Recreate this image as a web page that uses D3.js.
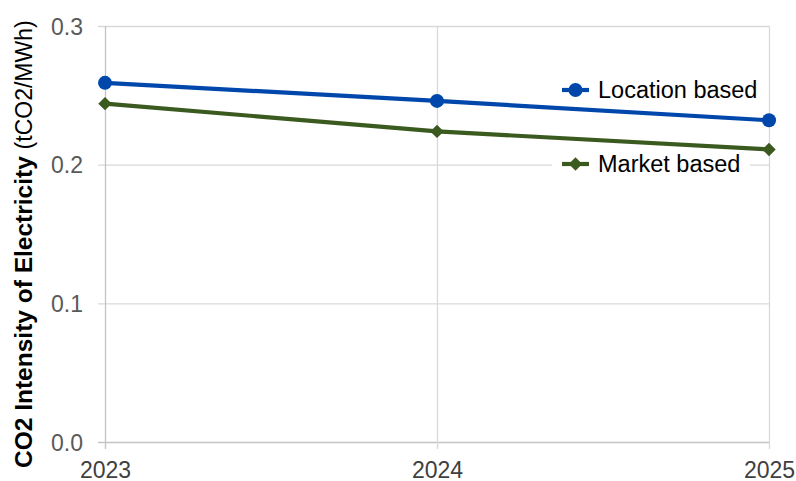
<!DOCTYPE html>
<html>
<head>
<meta charset="utf-8">
<script src="https://cdn.jsdelivr.net/npm/d3@7"></script>
<style>
  html, body { margin: 0; padding: 0; background: #fff; }
  svg { display: block; font-family: "Liberation Sans", Arial, sans-serif; }
</style>
</head>
<body>
<svg id="chart" width="796" height="481"></svg>
<script>
// Chart data
const years = ["2023", "2024", "2025"];
const locationBased = [0.259, 0.246, 0.232];
const marketBased = [0.244, 0.224, 0.211];
const yTicks = [0.0, 0.1, 0.2, 0.3];
const seriesNames = ["Location based", "Market based"];

const svg = d3.select("#chart");
const margin = { left: 105, right: 27, top: 26, bottom: 39 };
const W = 796, H = 481;

const x = d3.scalePoint().domain(years).range([margin.left, W - margin.right]);
const y = d3.scaleLinear().domain([0, 0.3]).range([H - margin.bottom, margin.top]);

const gridColor = "#d9d9d9";
const axisColor = "#c4c4c4";
const font = "Liberation Sans, Arial, sans-serif";

// Horizontal gridlines with left tick stubs
const yAxis = d3.axisLeft(y).tickValues(yTicks).tickFormat(d3.format(".1f"))
  .tickSize(-(W - margin.right - margin.left)).tickPadding(22);
const gy = svg.append("g").attr("transform", `translate(${margin.left},0)`).call(yAxis);
gy.select(".domain").remove();
gy.selectAll(".tick line").attr("stroke", gridColor).attr("stroke-width", 1.3).attr("x1", -7);
gy.selectAll(".tick text").attr("fill", "#595959").attr("font-size", 23)
  .attr("font-family", font).attr("dy", "0.35em");

// Vertical gridlines with bottom tick stubs
const xAxis = d3.axisBottom(x).tickSize(-(H - margin.bottom - margin.top)).tickPadding(20);
const gx = svg.append("g").attr("transform", `translate(0,${H - margin.bottom})`).call(xAxis);
gx.select(".domain").remove();
gx.selectAll(".tick line").attr("stroke", gridColor).attr("stroke-width", 1.3).attr("y1", 7);
gx.selectAll(".tick text").attr("fill", "#404040").attr("font-size", 23)
  .attr("font-family", font).attr("dy", "0.71em");
// left axis line and baseline a touch darker
gx.selectAll(".tick").filter((d, i) => i === 0).select("line").attr("stroke", axisColor);
gy.selectAll(".tick").filter(d => d === 0).select("line").attr("stroke", axisColor);

// Y axis title
const title = svg.append("text")
  .attr("transform", `translate(32,468) rotate(-90)`)
  .attr("text-anchor", "start").attr("fill", "#000");
title.append("tspan").attr("font-weight", "bold").attr("font-size", 24.5).text("CO2 Intensity of Electricity ");
title.append("tspan").attr("font-size", 23).text("(tCO2/MWh)");

// Series
const series = [
  { name: seriesNames[0], values: locationBased, color: "#0047ab", marker: "circle" },
  { name: seriesNames[1], values: marketBased, color: "#3b5a1f", marker: "diamond" }
];

const line = d3.line().x((d, i) => x(years[i])).y(d => y(d));

function drawMarker(g, type, cx, cy, color) {
  if (type === "circle") {
    g.append("circle").attr("cx", cx).attr("cy", cy).attr("r", 7).attr("fill", color);
  } else {
    g.append("path").attr("d", d3.symbol().type(d3.symbolDiamond2).size(115)())
      .attr("transform", `translate(${cx},${cy})`).attr("fill", color);
  }
}

// Legend backing sits over the gridlines, under the series
svg.append("rect").attr("x", 552).attr("y", 72).attr("width", 198).attr("height", 112).attr("fill", "#fff");

series.forEach(s => {
  const g = svg.append("g");
  g.append("path").datum(s.values).attr("d", line)
    .attr("fill", "none").attr("stroke", s.color).attr("stroke-width", 4.2);
  s.values.forEach((v, i) => drawMarker(g, s.marker, x(years[i]), y(v), s.color));
});

// Legend entries
const legend = svg.append("g");
const legendY = [90, 164];
series.forEach((s, i) => {
  const ly = legendY[i];
  legend.append("line").attr("x1", 562).attr("x2", 589).attr("y1", ly).attr("y2", ly)
    .attr("stroke", s.color).attr("stroke-width", 4.2);
  drawMarker(legend, s.marker, 575.5, ly, s.color);
  legend.append("text").attr("x", 598).attr("y", ly + 8).attr("font-size", 23.5)
    .attr("font-family", font).attr("fill", "#000").text(s.name);
});
</script>
</body>
</html>
